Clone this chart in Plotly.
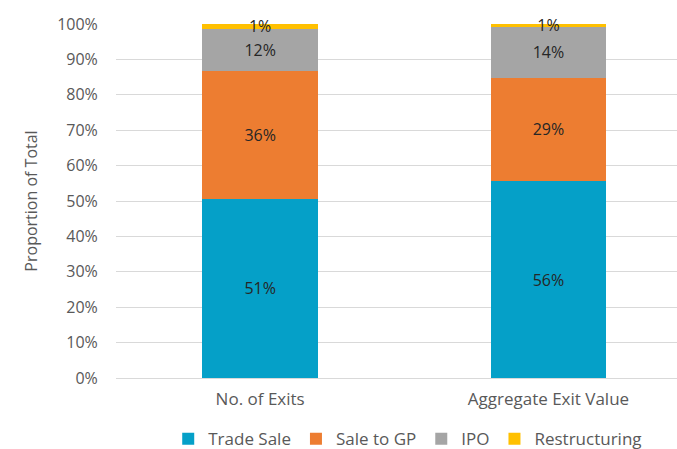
import plotly.graph_objects as go

categories = ["No. of Exits", "Aggregate Exit Value"]
series_names = ["Trade Sale", "Sale to GP", "IPO", "Restructuring"]
trade_sale = [50.7, 55.6]
sale_to_gp = [36.0, 29.2]
ipo = [12.0, 14.4]
restructuring = [1.3, 0.8]
y_ticks = list(range(0, 101, 10))
y_tick_labels = [f"{t}%" for t in y_ticks]

colors = ["#05A0C8", "#ED7D31", "#A5A5A5", "#FFC000"]
FONT = "Open Sans"
FS = 16

fig = go.Figure()
for name, vals, col in zip(series_names, [trade_sale, sale_to_gp, ipo, restructuring], colors):
    fig.add_trace(go.Bar(
        name=name, x=categories, y=vals, marker_color=col, marker_line_width=0,
        width=0.4,
        text=[f"{round(v)}%" for v in vals], textposition="inside",
        insidetextanchor="middle", constraintext="none",
        textfont=dict(family=FONT, size=FS, color="#262626"),
        cliponaxis=False,
    ))

fig.update_layout(
    barmode="stack",
    width=677, height=449,
    margin=dict(l=116, r=0, t=24, b=71, autoexpand=False),
    plot_bgcolor="white", paper_bgcolor="white",
    font=dict(family=FONT, size=FS, color="#595959"),
    showlegend=True,
    legend=dict(orientation="h", x=0.52, xanchor="center", y=-0.122, yanchor="top",
                font=dict(family=FONT, size=17, color="#595959"),
                traceorder="normal", itemwidth=30),
)
fig.update_xaxes(range=[-0.5, 1.446], showline=False, ticks="outside", ticklen=6,
                 tickcolor="white", showgrid=False, automargin=False,
                 tickfont=dict(family=FONT, size=17, color="#595959"))
fig.update_yaxes(range=[0, 100], tickvals=y_ticks, ticktext=y_tick_labels,
                 showgrid=True, gridcolor="#D9D9D9", gridwidth=1, zeroline=True,
                 zerolinecolor="#D9D9D9", zerolinewidth=1, showline=False,
                 ticks="outside", ticklen=14, tickcolor="white", automargin=False,
                 title=dict(text="Proportion of Total", standoff=15,
                            font=dict(family=FONT, size=FS, color="#595959")),
                 tickfont=dict(family=FONT, size=FS, color="#595959"))

fig.write_html("out.html", config={"displayModeBar": False},
               post_script="document.body.style.margin='0';")
